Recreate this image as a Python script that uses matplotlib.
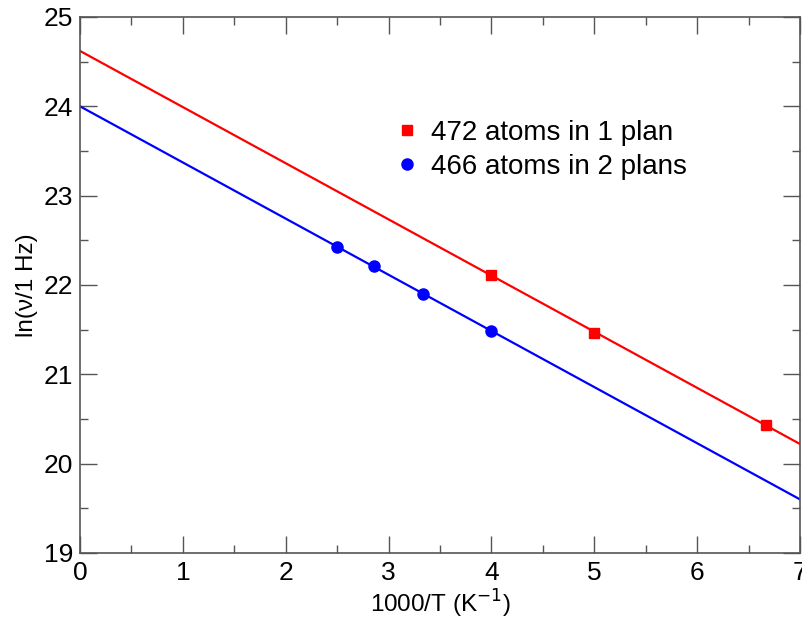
import numpy as np
import matplotlib
matplotlib.use('Agg')
import matplotlib.pyplot as plt
from matplotlib.ticker import MultipleLocator

plt.rcParams['font.family'] = ['Liberation Sans', 'DejaVu Sans']

# 472 atoms in 1 plan
x_one = [4.0, 5.0, 6.667]
y_one = [22.11, 21.46, 20.43]
fit_one = [-0.6286, 24.62]   # slope, intercept

# 466 atoms in 2 plans
x_two = [2.5, 2.857, 3.333, 4.0]
y_two = [22.43, 22.21, 21.90, 21.48]
fit_two = [-0.6286, 24.00]

labels = ['472 atoms in 1 plan', '466 atoms in 2 plans']

fig = plt.figure(figsize=(8.03, 6.24), dpi=100)
ax = fig.add_axes([0.0996, 0.1138, 0.8967, 0.859])

xx = np.array([0.0, 7.0])
ax.plot(xx, np.polyval(fit_one, xx), color='red', lw=1.6)
ax.plot(xx, np.polyval(fit_two, xx), color='blue', lw=1.6)
ax.plot(x_one, y_one, 's', color='red', ms=6.5, label=labels[0])
ax.plot(x_two, y_two, 'o', color='blue', ms=8, label=labels[1])

ax.set_xlim(0, 7)
ax.set_ylim(19, 25)
ax.xaxis.set_major_locator(MultipleLocator(1))
ax.xaxis.set_minor_locator(MultipleLocator(0.5))
ax.yaxis.set_major_locator(MultipleLocator(1))
ax.yaxis.set_minor_locator(MultipleLocator(0.5))
ax.tick_params(which='both', direction='in', top=True, right=True,
               color='#555555', labelsize=19)
ax.tick_params(axis='y', pad=5)
ax.tick_params(axis='x', pad=6)
ax.tick_params(which='major', length=12, width=1)
ax.tick_params(which='minor', length=6, width=1)
for s in ax.spines.values():
    s.set_color('#555555')
    s.set_linewidth(1.2)

ax.set_xlabel('1000/T (K$^{-1}$)', fontsize=17.5, labelpad=2)
ax.set_ylabel('ln(\u03bd/1 Hz)', fontsize=17.5, labelpad=4)

ax.legend(loc='upper left', bbox_to_anchor=(0.42, 0.834), frameon=False,
          fontsize=20, handletextpad=0.45, labelspacing=0.3,
          handlelength=0.8, borderpad=0)

fig.savefig('out.png', dpi=100)
